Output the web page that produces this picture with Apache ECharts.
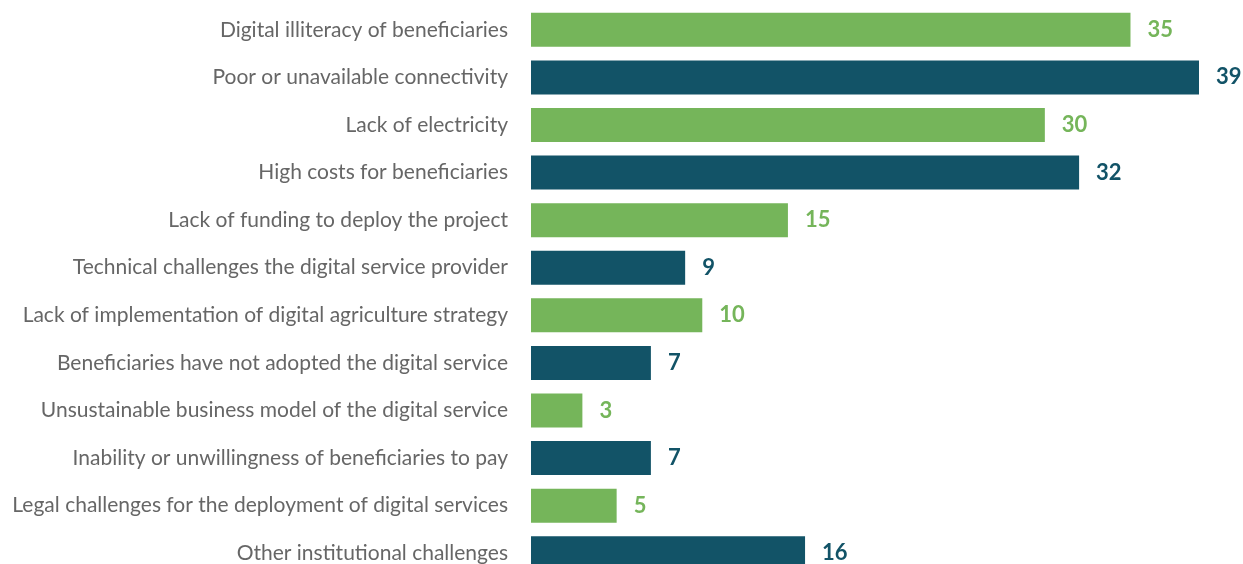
<!DOCTYPE html>
<html><head><meta charset="utf-8">
<script src="https://cdn.jsdelivr.net/npm/echarts@6/dist/echarts.min.js"></script>
<style>html,body{margin:0;padding:0;background:#fff}#c{width:1243px;height:564px}</style>
</head><body><div id="c"></div>
<script>
const categories = [
  "Digital illiteracy of beneficiaries",
  "Poor or unavailable connectivity",
  "Lack of electricity",
  "High costs for beneficiaries",
  "Lack of funding to deploy the project",
  "Technical challenges the digital service provider",
  "Lack of implementation of digital agriculture strategy",
  "Beneficiaries have not adopted the digital service",
  "Unsustainable business model of the digital service",
  "Inability or unwillingness of beneficiaries to pay",
  "Legal challenges for the deployment of digital services",
  "Other institutional challenges"
];
const values = [35, 39, 30, 32, 15, 9, 10, 7, 3, 7, 5, 16];
const GREEN = '#75b55a', TEAL = '#125367';
const chart = echarts.init(document.getElementById('c'));
chart.setOption({
  animation: false,
  grid: { left: 531, right: 44, top: 6, height: 571, containLabel: false, outerBoundsMode: 'none' },
  xAxis: { type: 'value', min: 0, max: 39, show: false },
  yAxis: {
    type: 'category', data: categories, inverse: true,
    axisLine: { show: false }, axisTick: { show: false },
    axisLabel: { margin: 23, fontFamily: 'Lato', fontSize: 21, color: '#666666' }
  },
  series: [{
    type: 'bar', barWidth: 34,
    data: values.map((v, i) => ({
      value: v,
      itemStyle: { color: i % 2 === 0 ? GREEN : TEAL },
      label: { color: i % 2 === 0 ? GREEN : TEAL }
    })),
    label: { show: true, position: 'right', distance: 17, fontFamily: 'Lato', fontWeight: 'bold', fontSize: 22 }
  }]
});
</script></body></html>
